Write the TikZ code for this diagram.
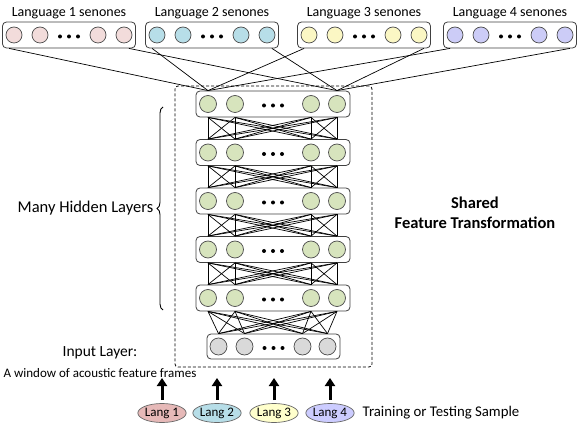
\documentclass[tikz,border=0pt]{standalone}
\usepackage{fontspec}
\setmainfont{Carlito}
\usetikzlibrary{arrows.meta,positioning,shapes,fit,decorations.pathreplacing}
\definecolor{senA}{HTML}{F2DCDB}
\definecolor{senB}{HTML}{B7DEE8}
\definecolor{senC}{HTML}{FBF7C4}
\definecolor{senD}{HTML}{CCCCF7}
\definecolor{hidden}{HTML}{D7E4BD}
\definecolor{inputgray}{HTML}{D9D9D9}
\definecolor{langA}{HTML}{E6B9B8}
\definecolor{langB}{HTML}{B7DEE8}
\definecolor{langC}{HTML}{FFFFCC}
\definecolor{langD}{HTML}{CCCCFF}
\tikzset{
	neuron/.style = {circle, draw = black!70, line width = 0.7pt, minimum size = 16pt, inner sep = 0pt},
	layer/.style = {draw = black!75, line width = 0.8pt, rounded corners = 4pt, fill = white, minimum width = 154pt, minimum height = 26pt, inner sep = 0pt},
	senone box/.style = {layer, minimum width = 133pt},
	frame/.style = {draw, line width = 0.8pt, dash pattern = on 3pt off 2pt, rounded corners = 3pt, inner sep = 0pt},
	lang/.style = {ellipse, draw = black!60, line width = 0.7pt, minimum width = 40pt, minimum height = 19pt, inner sep = 0pt, font = \fontsize{13}{15}\selectfont},
	feed/.style = {-{Triangle[length=8pt,width=10pt]}, line width = 3pt},
	wire/.style = {draw = black, line width = 0.7pt},
	lbl/.style = {font = \fontsize{14}{16}\selectfont}
}

\begin{document}
\begin{tikzpicture}[x=1pt, y=-1pt]
	\useasboundingbox (0,0) rectangle (580,427);

	% shared part
	\node [frame, minimum width = 197pt, minimum height = 281pt] (shared) at (273.5, 226.5) {};

	% hidden layers
	\foreach\i in {1,...,5}{
		\pgfmathsetmacro\y{104 + 48.5*(\i - 1)}
		\node [layer] (L\i) at (273, \y) {};
		\foreach\j/\dx in {1/-65, 2/-38, 3/38, 4/64}{
			\node [neuron, fill = hidden, minimum size = 17pt] (h\i-\j) at ([xshift=\dx pt]L\i.center) {};
		}
		\foreach\dx in {-9,0,9}{
			\fill ([xshift=\dx pt, yshift=-1.5pt]L\i.center) circle (2);
		}
	}

	% input layer
	\node [layer, minimum width = 133pt, minimum height = 25pt] (I) at (273.5, 346.5) {};
	\foreach\j/\dx in {1/-55, 2/-29, 3/29, 4/54}{
		\node [neuron, fill = inputgray, minimum size = 17pt] (x\j) at ([xshift=\dx pt]I.center) {};
	}
	\foreach\dx in {-9,0,9}{
		\fill ([xshift=\dx pt, yshift=-1.5pt]I.center) circle (2);
	}

	% full connections between layers
	\foreach\i in {1,...,4}{
		\pgfmathparse{int(\i + 1)}
		\let\k\pgfmathresult
		\foreach\a in {1,...,4}{
			\foreach\b in {1,...,4}{
				\draw [wire] (h\i-\a |- L\i.south) -- (h\k-\b |- L\k.north);
			}
		}
	}
	\foreach\a in {1,...,4}{
		\foreach\b in {1,...,4}{
			\draw [wire] (h5-\a |- L5.south) -- (x\b |- I.north);
		}
	}

	% senone outputs
	\foreach\i/\cx/\col in {1/69/senA, 2/212/senB, 3/364/senC, 4/510/senD}{
		\node [senone box] (S\i) at (\cx, 35) [label = {[lbl, label distance = -1pt]above:Language \i\ senones}] {};
		\foreach\j/\dx in {1/-55, 2/-29, 3/29, 4/55}{
			\node [neuron, fill = \col] (s\i-\j) at ([xshift=\dx pt]S\i.center) {};
		}
		\foreach\dx in {-9,0,9}{
			\fill ([xshift=\dx pt, yshift=-1.5pt]S\i.center) circle (2);
		}
		\draw [wire] ([xshift=7pt]S\i.south west) -- (h1-1 |- L1.north);
		\draw [wire] ([xshift=-7pt]S\i.south east) -- (h1-4 |- L1.north);
	}

	% labels
	\draw [decorate, decoration = {brace, amplitude = 6pt}, line width = 0.9pt]
		(163,310) -- (163,107) node [midway, left = 6pt, font = \fontsize{16.5}{18}\selectfont] (many) {Many Hidden Layers};
	\node [align = center, font = \fontsize{16.5}{20}\bfseries] (shared label) at (475, 213) {Shared\\Feature Transformation};
	\node [font = \fontsize{15.5}{17}\selectfont] (input label) at (100, 353) {Input Layer:};
	\node [font = \fontsize{13}{15}\selectfont] (window label) at (100, 373) {A window of acoustic feature frames};

	% language samples
	\foreach\i/\cx/\col in {1/162/langA, 2/217/langB, 3/274/langC, 4/330/langD}{
		\node [lang, fill = \col] (lang\i) at (\cx, 413) {Lang \i};
		\coordinate (tip\i) at (\cx, 378);
		\draw [feed] ([yshift=3pt]lang\i.north) -- (tip\i);
	}
	\node [right = 8pt of lang4, font = \fontsize{14.8}{16}\selectfont, inner sep = 0pt] (sample) {Training or Testing Sample};
\end{tikzpicture}
\end{document}
